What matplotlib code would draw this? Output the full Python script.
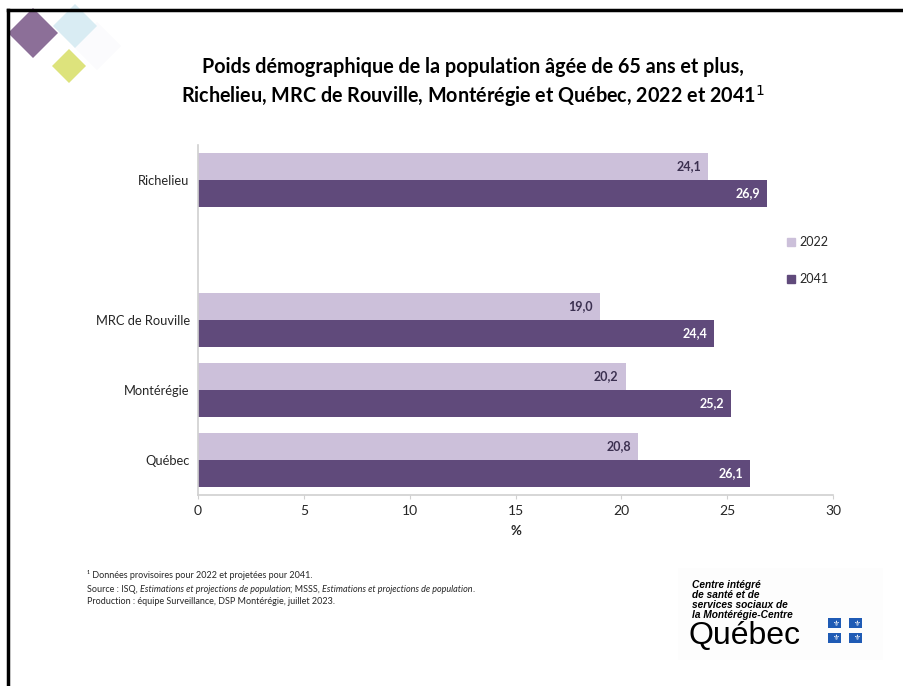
import numpy as np
import matplotlib.pyplot as plt
import matplotlib.patches as mpatches
from matplotlib.lines import Line2D

plt.rcParams['font.family'] = ['Lato', 'DejaVu Sans']

categories = ["Richelieu", "", "MRC de Rouville", "Montérégie", "Québec"]
val_2022 = [24.1, np.nan, 19.0, 20.2, 20.8]
val_2041 = [26.9, np.nan, 24.4, 25.2, 26.1]
series_names = ["2022", "2041"]
x_ticks = [0, 5, 10, 15, 20, 25, 30]

light = '#ccc0da'
dark = '#604a7b'
grey = '#d0d0d0'
txt = '#262626'

fig = plt.figure(figsize=(9.04, 6.86), dpi=100)
W, H = 904, 686

def fx(px):
    return px / W

def fy(py):
    return 1 - py / H

# slide border (only left and top edges visible)
fig.add_artist(Line2D([fx(8), fx(8)], [0, fy(10)], color='black', lw=2.5))
fig.add_artist(Line2D([fx(8), 1], [fy(10), fy(10)], color='black', lw=2.5))

# diamonds logo top left
def diamond(cx, cy, r, color):
    pts = [(fx(cx), fy(cy - r)), (fx(cx + r), fy(cy)), (fx(cx), fy(cy + r)), (fx(cx - r), fy(cy))]
    fig.add_artist(mpatches.Polygon(pts, closed=True, color=color, lw=0))

diamond(97, 46, 24, '#fbfbfd')
diamond(75, 26, 22, '#d9ecf3')
diamond(69, 66, 17, '#dde37c')
diamond(33, 33, 25, '#8c6f98')

# chart
ax = fig.add_axes([fx(198), fy(495), fx(833) - fx(198), (495 - 145) / H])
y = np.arange(len(categories))
h = 0.386
b1 = ax.barh(y - h / 2, val_2022, height=h, color=light, label=series_names[0])
b2 = ax.barh(y + h / 2, val_2041, height=h, color=dark, label=series_names[1])

for bars, vals, col in [(b1, val_2022, '#3b3050'), (b2, val_2041, 'white')]:
    for rect, v in zip(bars, vals):
        if np.isnan(v):
            continue
        ax.annotate(f"{v:.1f}".replace('.', ','), xy=(v, rect.get_y() + rect.get_height() / 2),
                    xytext=(-5, 0), textcoords='offset points', ha='right', va='center',
                    fontsize=9, fontweight='bold', color=col)

ax.set_xlim(0, 30)
ax.set_ylim(len(categories) - 0.5, -0.5)
ax.set_xticks(x_ticks)
ax.set_xticklabels([str(t) for t in x_ticks])
ax.set_yticks(y)
ax.set_yticklabels(categories)
ax.tick_params(axis='x', length=3, color=grey, labelsize=10, labelcolor=txt, pad=4)
ax.tick_params(axis='y', length=0, labelsize=9.3, labelcolor=txt, pad=6)
for s in ['top', 'right']:
    ax.spines[s].set_visible(False)
for s in ['left', 'bottom']:
    ax.spines[s].set_color(grey)
    ax.spines[s].set_linewidth(1.2)
ax.set_xlabel('%', fontsize=9.5, fontweight='bold', color=txt, labelpad=6)

fig.legend(handles=[mpatches.Patch(color=light, label=series_names[0]),
                    mpatches.Patch(color=dark, label=series_names[1])],
           loc='upper left', bbox_to_anchor=(fx(776), fy(225)), frameon=False,
           fontsize=9, handlelength=0.6, handleheight=0.6, handletextpad=0.4,
           labelspacing=2.0, labelcolor=txt)

# title
fig.text(fx(473), fy(67), "Poids démographique de la population âgée de 65 ans et plus,",
         ha='center', va='center', fontsize=14.2, fontweight='bold', color='black')
fig.text(fx(473), fy(96), "Richelieu, MRC de Rouville, Montérégie et Québec, 2022 et 2041$^{1}$",
         ha='center', va='center', fontsize=14.2, fontweight='bold', color='black')

# footnotes
fs = 6.5
fig.text(fx(87), fy(575), "¹ Données provisoires pour 2022 et projetées pour 2041.",
         fontsize=fs, color=txt, va='center')
parts = [("Source : ISQ, ", 'normal'), ("Estimations et projections de population", 'italic'),
         ("; MSSS, ", 'normal'), ("Estimations et projections de population", 'italic'), (".", 'normal')]
prev = fig.text(fx(87), fy(589), parts[0][0], fontsize=fs, color=txt, va='center', style=parts[0][1])
for s, st in parts[1:]:
    prev = ax.annotate(s, xy=(1, 0.5), xycoords=prev, va='center', ha='left',
                       fontsize=fs, color=txt, style=st, annotation_clip=False)
fig.text(fx(87), fy(601), "Production : équipe Surveillance, DSP Montérégie, juillet 2023.",
         fontsize=fs, color=txt, va='center')

# CISSS logo bottom right
fig.add_artist(mpatches.Rectangle((fx(678), fy(660)), fx(205), (660 - 568) / H,
                                  color='#fdfdfd', lw=0))
fig.text(fx(692), fy(600), "Centre intégré\nde santé et de\nservices sociaux de\nla Montérégie-Centre",
         fontsize=7.3, fontweight='bold', style='italic', color='black', va='center',
         linespacing=1.02, family=['Liberation Sans'])
fig.text(fx(689), fy(636), "Québec", fontsize=23, color='black', va='center',
         family=['Liberation Sans'])
for cx in [835, 856]:
    for cy in [623, 638]:
        fig.add_artist(mpatches.Rectangle((fx(cx - 6.5), fy(cy + 5)), fx(13), 10 / H,
                                          color='#1f5bb5', lw=0))
        fig.text(fx(cx), fy(cy), "⚜", fontsize=5.5, color='white', ha='center', va='center',
                 family=['DejaVu Sans'])

fig.savefig('out.png', dpi=100)
